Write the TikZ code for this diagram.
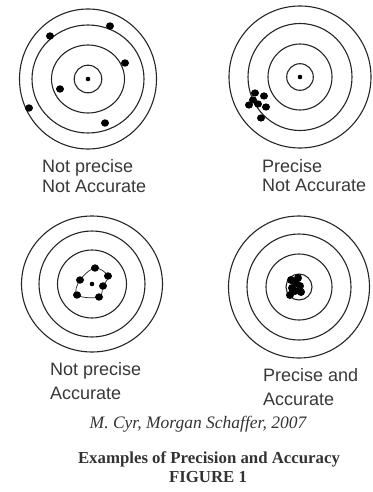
\documentclass[tikz,border=0pt]{standalone}
\usepackage{fontspec}
\setmainfont{Liberation Serif}
\newfontfamily\labelfont{Liberation Sans}
\begin{document}
\begin{tikzpicture}[x=1pt,y=-1pt,
  ring/.style={draw=black!85,line width=1.1pt},
  shot/.style={fill=black},
  lbl/.style={anchor=base west,inner sep=0pt,font=\labelfont\fontsize{18}{18}\selectfont,text=black!78},
  captext/.style={anchor=base,inner sep=0pt,text=black!80}]
\useasboundingbox (0,0) rectangle (372,492);
% ---------- target 1 ----------
\coordinate (c1) at (88,79);
\draw[ring] (c1) circle[x radius=68.5,y radius=70];
\draw[ring] (c1) circle[x radius=56,y radius=54];
\draw[ring] (c1) circle[x radius=36.5,y radius=34];
\draw[ring] (c1) circle[radius=13.8];
\fill[shot] (c1) circle[radius=2.3];
\foreach \p in {(110,26),(50,36),(125,63),(60,89),(29,108),(105,123)}
  \fill[shot] \p circle[x radius=4,y radius=3.7];
\node[lbl] (l1a) at (42,172) {Not precise};
\node[lbl] (l1b) at (42,192) {Not Accurate};
% ---------- target 2 ----------
\coordinate (c2) at (300,77);
\draw[ring] (c2) circle[radius=71];
\draw[ring] (c2) circle[x radius=52,y radius=53.5];
\draw[ring] (c2) circle[x radius=32,y radius=33];
\draw[ring] (c2) circle[radius=13.3];
\fill[shot] (c2) circle[radius=2.3];
\foreach \p in {(255,93),(264,96),(249,105),(258,104),(266,107),(261,118),(253,100)}
  \fill[shot] \p circle[x radius=4,y radius=3.6];
\node[lbl] (l2a) at (262,172) {Precise};
\node[lbl] (l2b) at (262,191) {Not Accurate};
% ---------- target 3 ----------
\coordinate (c3) at (92,284);
\draw[ring] (c3) circle[x radius=70.5,y radius=68];
\draw[ring] (c3) circle[x radius=53,y radius=53];
\draw[ring] (c3) circle[x radius=34.5,y radius=34];
\draw[draw=black!85,line width=0.7pt] plot[smooth cycle,tension=0.6] coordinates {(95,268) (108,276) (103,286) (99,297) (77,295) (80,280)};
\fill[shot] (c3) circle[radius=2.3];
\foreach \p in {(95,268),(80,280),(108,276),(103,286),(77,295),(99,297)}
  \fill[shot] \p circle[x radius=4,y radius=3.7];
\node[lbl] (l3a) at (50,375) {Not precise};
\node[lbl] (l3b) at (50,399) {Accurate};
% ---------- target 4 ----------
\coordinate (c4) at (299,287);
\draw[ring] (c4) circle[x radius=70.5,y radius=71];
\draw[ring] (c4) circle[x radius=52,y radius=53];
\draw[ring] (c4) circle[x radius=33,y radius=33];
\draw[ring] (c4) circle[radius=13];
\foreach \p in {(291,280),(298,278),(300,286),(292,288),(290,295),(301,292),(296,283),(295,291)}
  \fill[shot] \p circle[radius=4];
\node[lbl] (l4a) at (263,381) {Precise and};
\node[lbl] (l4b) at (263,405) {Accurate};
% ---------- captions ----------
\node[captext,font=\itshape\fontsize{17.5}{17.5}\selectfont] (src) at (198,428) {M. Cyr, Morgan Schaffer, 2007};
\node[captext,font=\bfseries\fontsize{16.8}{16.8}\selectfont] (ttl) at (209,463) {Examples of Precision and Accuracy};
\node[captext,font=\bfseries\fontsize{16.8}{16.8}\selectfont] (fig) at (208,482) {FIGURE 1};
\end{tikzpicture}
\end{document}
